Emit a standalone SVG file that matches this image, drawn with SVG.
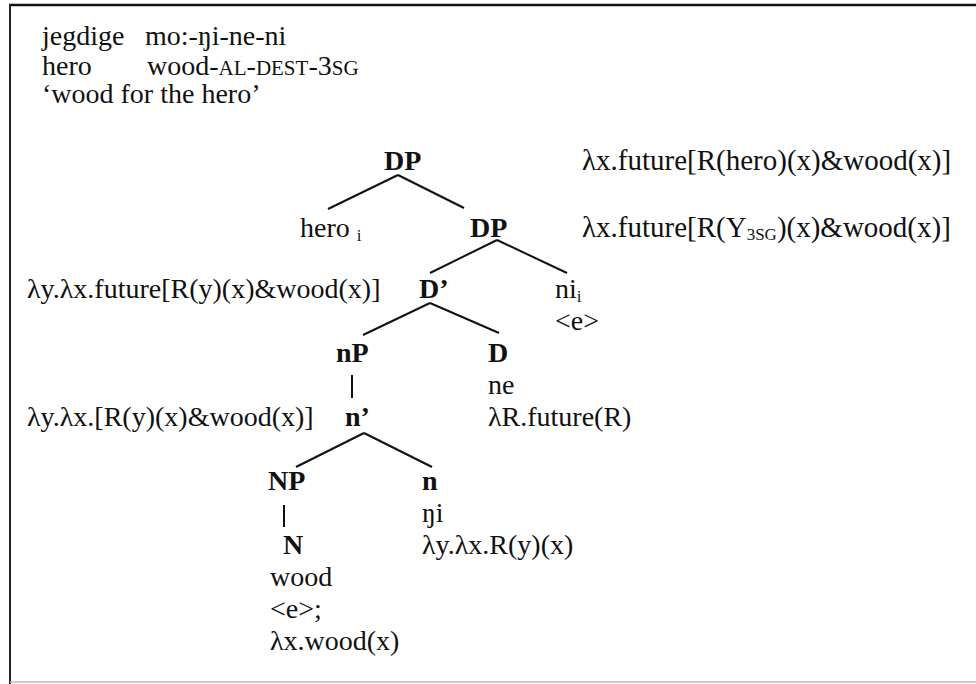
<svg xmlns="http://www.w3.org/2000/svg" width="976" height="684" viewBox="0 0 976 684">
<style>
text{font-family:"Liberation Serif","Times New Roman",serif;font-size:28px;fill:#111}
.b{font-weight:bold}
.sc{font-size:21px}
.sub{font-size:17px}
.wide{font-size:29px}
.ln{stroke:#111;stroke-width:2;fill:none}
</style>
<rect x="0" y="0" width="976" height="684" fill="#fff"/>
<g id="frame">
<line x1="9" y1="5" x2="976" y2="5" stroke="#111" stroke-width="2.5"/>
<line x1="10" y1="4" x2="10" y2="684" stroke="#222" stroke-width="2"/>
<line x1="10" y1="682" x2="976" y2="682" stroke="#bbb" stroke-width="1.5"/>
</g>
<g id="gloss">
<text x="42" y="45">jegdige</text>
<text x="145" y="45">mo:-ŋi-ne-ni</text>
<text x="42" y="75">hero</text>
<text x="147" y="75">wood-<tspan class="sc">AL</tspan>-<tspan class="sc">DEST</tspan>-3<tspan class="sc">SG</tspan></text>
<text x="42" y="103">‘wood for the hero’</text>
</g>
<g id="connectors">
<line class="ln" x1="398" y1="175" x2="328" y2="209"/>
<line class="ln" x1="398" y1="175" x2="464" y2="208"/>
<line class="ln" x1="497" y1="240" x2="430" y2="273"/>
<line class="ln" x1="497" y1="240" x2="567" y2="273"/>
<line class="ln" x1="430" y1="303" x2="363" y2="335"/>
<line class="ln" x1="430" y1="303" x2="499" y2="333"/>
<line class="ln" x1="352" y1="375" x2="352" y2="398"/>
<line class="ln" x1="364" y1="433" x2="296" y2="467"/>
<line class="ln" x1="364" y1="433" x2="432" y2="467"/>
<line class="ln" x1="284" y1="505" x2="284" y2="527"/>
</g>
<g id="node-DP-top"><text class="b" x="384" y="170">DP</text></g>
<g id="sem-DP-top"><text class="wide" x="582" y="170">λx.future[R(hero)(x)&amp;wood(x)]</text></g>
<g id="node-hero"><text x="300" y="237">hero <tspan class="sub" dy="4">i</tspan></text></g>
<g id="node-DP2"><text class="b" x="470" y="237">DP</text></g>
<g id="sem-DP2"><text class="wide" x="582" y="237">λx.future[R(Y<tspan class="sub" dy="3">3SG</tspan><tspan dy="-3">)(x)&amp;wood(x)]</tspan></text></g>
<g id="sem-Dbar"><text x="27" y="298">λy.λx.future[R(y)(x)&amp;wood(x)]</text></g>
<g id="node-Dbar"><text class="b" x="419" y="298">D’</text></g>
<g id="node-ni"><text x="555" y="298">ni<tspan class="sub" dy="4">i</tspan></text><text x="555" y="330">&lt;e&gt;</text></g>
<g id="node-nP"><text class="b" x="336" y="362">nP</text></g>
<g id="node-D"><text class="b" x="488" y="362">D</text><text x="488" y="394">ne</text><text x="488" y="426">λR.future(R)</text></g>
<g id="sem-nbar"><text x="27" y="426">λy.λx.[R(y)(x)&amp;wood(x)]</text></g>
<g id="node-nbar"><text class="b" x="345" y="426">n’</text></g>
<g id="node-NP"><text class="b" x="268" y="490">NP</text></g>
<g id="node-n"><text class="b" x="422" y="490">n</text><text x="422" y="522">ŋi</text><text x="422" y="554">λy.λx.R(y)(x)</text></g>
<g id="node-N"><text class="b" x="283" y="554">N</text><text x="270" y="586">wood</text><text x="270" y="618">&lt;e&gt;;</text><text x="270" y="650">λx.wood(x)</text></g>
</svg>
